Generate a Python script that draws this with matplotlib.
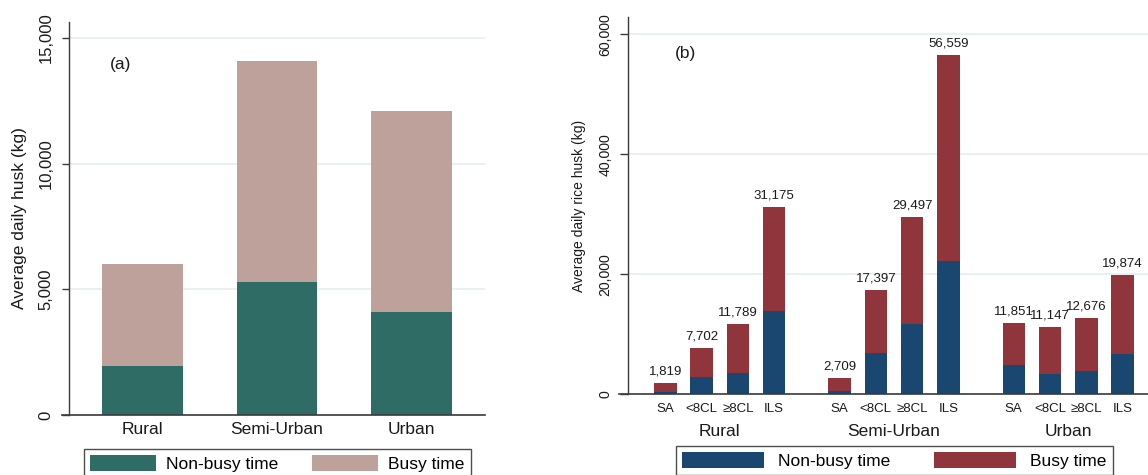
import numpy as np
import matplotlib
matplotlib.use("Agg")
import matplotlib.pyplot as plt
from matplotlib.patches import Patch

plt.rcParams["font.family"] = ["Liberation Sans", "DejaVu Sans"]

# Panel (a): average daily husk by location
LOCATIONS = ["Rural", "Semi-Urban", "Urban"]
HUSK_NONBUSY = [1960, 5300, 4110]
HUSK_BUSY = [4060, 8780, 8000]

# Panel (b): average daily rice husk by mill type within location
MILL_TYPES = ["SA", "<8CL", "≥8CL", "ILS"]
RICE_TOTAL = [1819, 7702, 11789, 31175,
              2709, 17397, 29497, 56559,
              11851, 11147, 12676, 19874]
RICE_NONBUSY = [430, 2880, 3550, 13880,
                550, 6880, 11670, 22220,
                4830, 3380, 3880, 6770]

TEAL, TAN = "#2e6c65", "#bda19a"
NAVY, MAROON = "#1a476f", "#90353b"
GRID = "#e4edf0"
AXIS = "#3a3a3a"
TXT = "#1a1a1a"


def style_axes(ax, tick_len, ext):
    for s in ("top", "right", "bottom"):
        ax.spines[s].set_visible(False)
    ax.spines["left"].set_color(AXIS)
    ax.spines["left"].set_linewidth(1.0)
    # x axis line runs out to the tick marks on the left
    ax.plot([-ext, 1], [0, 0], transform=ax.transAxes, color=AXIS, lw=1.2,
            clip_on=False, zorder=5)
    ax.yaxis.grid(True, color=GRID, lw=1.2)
    ax.set_axisbelow(True)
    ax.tick_params(axis="y", length=tick_len, width=1.0, color=AXIS,
                   labelrotation=90, labelcolor=TXT)
    ax.tick_params(axis="x", length=0, labelcolor=TXT)
    for lab in ax.get_yticklabels():
        lab.set_verticalalignment("center")


def add_legend(fig, colors, anchor, handlelength, textpad, colspace):
    handles = [Patch(facecolor=c) for c in colors]
    fig.legend(handles, ["Non-busy time", "Busy time"], ncol=2,
               loc="upper left", bbox_to_anchor=anchor,
               fontsize=12.5, frameon=True, fancybox=False, edgecolor="#222",
               handlelength=handlelength, handleheight=1.05,
               handletextpad=textpad, columnspacing=colspace,
               borderpad=0.35, borderaxespad=0)


def panel_a(fig):
    ax = fig.add_axes([69 / 1148, 60 / 475, 416 / 1148, 393 / 475])
    x = np.arange(len(LOCATIONS))
    ax.bar(x, HUSK_NONBUSY, width=0.602, color=TEAL)
    ax.bar(x, HUSK_BUSY, width=0.602, bottom=HUSK_NONBUSY, color=TAN)
    ax.set_xlim(-0.546, 2.546)
    ax.set_ylim(0, 15637)
    ax.set_yticks([0, 5000, 10000, 15000])
    ax.set_yticklabels(["0", "5,000", "10,000", "15,000"], fontsize=12)
    ax.set_xticks(x)
    ax.set_xticklabels(LOCATIONS, fontsize=12.5)
    ax.tick_params(axis="x", pad=5)
    ax.tick_params(axis="y", pad=6)
    style_axes(ax, 5, 7 / 416)
    ax.set_ylabel("Average daily husk (kg)", fontsize=12.5, color=TXT)
    ax.yaxis.set_label_coords(-0.12, 0.5)
    ax.yaxis.label.set_verticalalignment("center")
    ax.text(0.125, 0.892, "(a)", transform=ax.transAxes, fontsize=12.5,
            ha="center", va="center", color=TXT)
    add_legend(fig, [TEAL, TAN], (84 / 1148, 1 - 449 / 475), 3.8, 0.6, 1.9)


def panel_b(fig):
    ax = fig.add_axes([628 / 1148, 80.7 / 475, 532 / 1148, 377.3 / 475])
    pos = np.concatenate([np.arange(4) + g * 4.8 for g in range(3)])
    total = np.array(RICE_TOTAL)
    nonbusy = np.array(RICE_NONBUSY)
    ax.bar(pos, nonbusy, width=0.62, color=NAVY)
    ax.bar(pos, total - nonbusy, width=0.62, bottom=nonbusy, color=MAROON)
    for p, t in zip(pos, total):
        ax.annotate(f"{t:,}", (p, t), xytext=(0, 4), textcoords="offset points",
                    ha="center", va="bottom", fontsize=9.5, color=TXT)
    ax.set_xlim(-1.03, 13.63)
    ax.set_ylim(0, 62883)
    ax.set_yticks([0, 20000, 40000, 60000])
    ax.set_yticklabels(["0", "20,000", "40,000", "60,000"], fontsize=10.2)
    ax.set_xticks(pos)
    ax.set_xticklabels(MILL_TYPES * 3, fontsize=9.5)
    ax.tick_params(axis="x", pad=6)
    ax.tick_params(axis="y", pad=5)
    style_axes(ax, 6, 9 / 532)
    for g, name in enumerate(LOCATIONS):
        ax.annotate(name, (g * 4.8 + 1.5, 0), xycoords=("data", "axes fraction"),
                    xytext=(0, -26.6), textcoords="offset points",
                    ha="center", va="center", fontsize=12.5, color=TXT)
    ax.set_ylabel("Average daily rice husk (kg)", fontsize=10, color=TXT)
    ax.yaxis.set_label_coords(-0.0926, 0.5)
    ax.yaxis.label.set_verticalalignment("center")
    ax.text(0.108, 0.904, "(b)", transform=ax.transAxes, fontsize=12.5,
            ha="center", va="center", color=TXT)
    add_legend(fig, [NAVY, MAROON], (676 / 1148, 1 - 446 / 475), 4.7, 0.85, 2.5)


fig = plt.figure(figsize=(11.48, 4.75), dpi=100)
panel_a(fig)
panel_b(fig)
fig.savefig("out.png", dpi=100)
